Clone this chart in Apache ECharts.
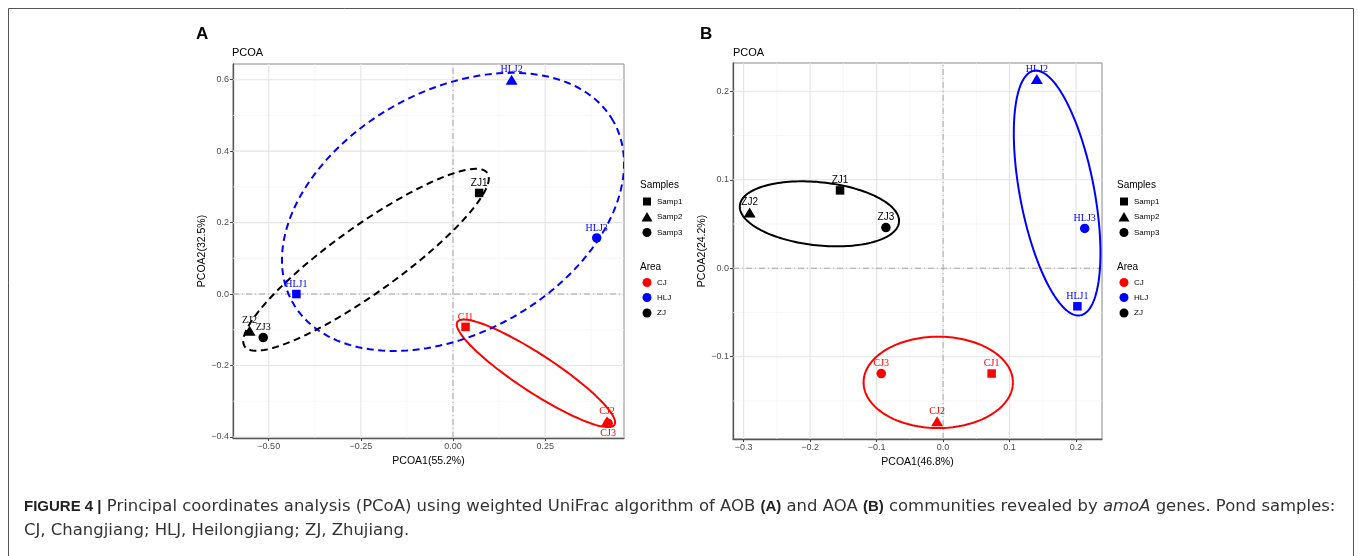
<!DOCTYPE html>
<html>
<head>
<meta charset="utf-8">
<script src="https://cdn.jsdelivr.net/npm/echarts@6/dist/echarts.min.js"></script>
<style>
html, body { margin: 0; padding: 0; background: #fff; }
#main { width: 1358px; height: 556px; }
</style>
</head>
<body>
<div id="main"></div>
<script>
// samples shared by both panels
var sampleNames = ['CJ1', 'CJ2', 'CJ3', 'HLJ1', 'HLJ2', 'HLJ3', 'ZJ1', 'ZJ2', 'ZJ3'];
var sampleArea = ['CJ', 'CJ', 'CJ', 'HLJ', 'HLJ', 'HLJ', 'ZJ', 'ZJ', 'ZJ'];
var sampleType = ['Samp1', 'Samp2', 'Samp3', 'Samp1', 'Samp2', 'Samp3', 'Samp1', 'Samp2', 'Samp3'];

// A: AOB
var aobX = [0.034, 0.418, 0.421, -0.425, 0.159, 0.390, 0.071, -0.552, -0.515];
var aobY = [-0.092, -0.356, -0.362, 0.000, 0.600, 0.157, 0.283, -0.103, -0.122];
// B: AOA
var aoaX = [0.073, -0.009, -0.093, 0.202, 0.141, 0.213, -0.155, -0.291, -0.086];
var aoaY = [-0.119, -0.173, -0.119, -0.043, 0.214, 0.045, 0.088, 0.063, 0.046];

// confidence ellipses: [cx, cy, ux, uy, vx, vy]
var aobEllCJ = [0.225, -0.222, 0.213, -0.144, -0.028, -0.044];
var aobEllHLJ = [0.000, 0.230, 0.435, 0.254, -0.162, 0.295];
var aobEllZJ = [-0.236, 0.096, 0.329, 0.243, -0.0527, 0.0759];
var aoaEllCJ = [-0.0073, -0.129, 0.1123, 0, 0, 0.0516];
var aoaEllHLJ = [0.1715, 0.085, 0.0351, -0.1382, -0.0549, -0.0079];
var aoaEllZJ = [-0.186, 0.0615, 0.1197, -0.0095, -0.0050, -0.0355];

var aobXTicks = [-0.5, -0.25, 0, 0.25];
var aobYTicks = [-0.4, -0.2, 0, 0.2, 0.4, 0.6];
var aoaXTicks = [-0.3, -0.2, -0.1, 0, 0.1, 0.2];
var aoaYTicks = [-0.1, 0, 0.1, 0.2];
var aobXRange = [-0.597, 0.464];
var aobYRange = [-0.403, 0.644];
var aoaXRange = [-0.316, 0.239];
var aoaYRange = [-0.193, 0.232];

var areaNames = ['CJ', 'HLJ', 'ZJ'];
var areaColors = {CJ: '#FF0000', HLJ: '#0000FF', ZJ: '#000000'};
var typeNames = ['Samp1', 'Samp2', 'Samp3'];
var typeSymbols = {Samp1: 'rect', Samp2: 'triangle', Samp3: 'circle'};
var typeSizes = {Samp1: 8.5, Samp2: [12, 10], Samp3: 9.5};

var myChart = echarts.init(document.getElementById('main'));

function fmt(d) {
    return function (v) { return v.toFixed(d).replace('-', '\u2212'); };
}

// minor lines halfway between the major ticks, like ggplot
function minors(ticks, range) {
    var step = ticks[1] - ticks[0], out = [];
    for (var i = -1; i < ticks.length; i++) {
        var v = ticks[0] + step * (i + 0.5);
        if (v > range[0] && v < range[1]) out.push(v);
    }
    return out;
}

function gridLines(xt, yt, xr, yr) {
    var lines = [];
    minors(xt, xr).forEach(function (v) { lines.push([v, yr[0], v, yr[1], 0]); });
    minors(yt, yr).forEach(function (v) { lines.push([xr[0], v, xr[1], v, 0]); });
    xt.forEach(function (v) { lines.push([v, yr[0], v, yr[1], 1]); });
    yt.forEach(function (v) { lines.push([xr[0], v, xr[1], v, 1]); });
    lines.push([0, yr[0], 0, yr[1], 2]);
    lines.push([xr[0], 0, xr[1], 0, 2]);
    return lines;
}

var lineStyles = [
    {stroke: '#F3F3F3', lineWidth: 0.7},
    {stroke: '#E4E4E4', lineWidth: 1.1},
    {stroke: '#A8A8A8', lineWidth: 1, lineDash: [6, 3, 1, 3]}
];

function gridSeries(idx, lines) {
    return {
        type: 'custom', xAxisIndex: idx, yAxisIndex: idx, silent: true, z: 1, clip: true,
        data: lines,
        renderItem: function (params, api) {
            var p1 = api.coord([api.value(0), api.value(1)]);
            var p2 = api.coord([api.value(2), api.value(3)]);
            return {
                type: 'line',
                shape: {x1: p1[0], y1: p1[1], x2: p2[0], y2: p2[1]},
                style: lineStyles[api.value(4)]
            };
        }
    };
}

// dashed: one flag per area (CJ, HLJ, ZJ)
function ellipseSeries(idx, ells, dashed) {
    return {
        type: 'custom', xAxisIndex: idx, yAxisIndex: idx, silent: true, z: 3, clip: true,
        data: ells,
        renderItem: function (params, api) {
            var pts = [];
            for (var k = 0; k <= 160; k++) {
                var t = k / 160 * Math.PI * 2;
                pts.push(api.coord([
                    api.value(0) + api.value(2) * Math.cos(t) + api.value(4) * Math.sin(t),
                    api.value(1) + api.value(3) * Math.cos(t) + api.value(5) * Math.sin(t)
                ]));
            }
            return {
                type: 'polyline',
                shape: {points: pts},
                style: {
                    fill: null,
                    stroke: areaColors[areaNames[params.dataIndex]],
                    lineWidth: 2,
                    lineDash: dashed[params.dataIndex] ? [7, 4.5] : null
                }
            };
        }
    };
}

function pointSeries(idx, xs, ys, panel) {
    var data = sampleNames.map(function (n, i) {
        var area = sampleArea[i], type = sampleType[i];
        var serif = area !== 'ZJ' || (panel === 'A' && n !== 'ZJ1');
        var below = panel === 'A' && n === 'CJ3';
        return {
            name: n,
            value: [xs[i], ys[i]],
            symbol: typeSymbols[type],
            symbolSize: typeSizes[type],
            itemStyle: {color: areaColors[area], opacity: 1},
            label: {
                show: true,
                position: 'inside',
                offset: [0, below ? 10 : -10],
                formatter: n,
                color: areaColors[area],
                fontSize: 10,
                fontFamily: serif ? 'Liberation Serif' : 'Liberation Sans'
            }
        };
    });
    return {
        type: 'scatter', xAxisIndex: idx, yAxisIndex: idx, z: 4, silent: true,
        itemStyle: {opacity: 1},
        data: data
    };
}

function makeAxis(idx, range, ticks, name, dec, gap) {
    return {
        gridIndex: idx, type: 'value', min: range[0], max: range[1],
        name: name, nameLocation: 'middle', nameGap: gap,
        nameTextStyle: {fontSize: 10.5, color: '#000', fontFamily: 'Liberation Sans'},
        axisLine: {show: true, onZero: false, lineStyle: {color: '#555', width: 1.3}},
        axisTick: {show: true, length: 3, customValues: ticks, lineStyle: {color: '#444'}},
        axisLabel: {customValues: ticks, formatter: fmt(dec), fontSize: 9, color: '#4D4D4D',
            margin: 4, fontFamily: 'Liberation Sans'},
        splitLine: {show: false}
    };
}

// legend drawn as graphics
function legendGraphics(x0) {
    var els = [], font = 'Liberation Sans';
    els.push({type: 'text', left: x0, top: 180, style: {text: 'Samples', fontSize: 10, fontFamily: font, fill: '#000'}});
    var sy = [201.5, 217, 232.5];
    typeNames.forEach(function (t, i) {
        var cx = x0 + 7, cy = sy[i];
        if (t === 'Samp1') els.push({type: 'rect', shape: {x: cx - 4, y: cy - 4, width: 8, height: 8}, style: {fill: '#000'}});
        if (t === 'Samp2') els.push({type: 'polygon', shape: {points: [[cx, cy - 5], [cx + 5.5, cy + 4.5], [cx - 5.5, cy + 4.5]]}, style: {fill: '#000'}});
        if (t === 'Samp3') els.push({type: 'circle', shape: {cx: cx, cy: cy, r: 4.5}, style: {fill: '#000'}});
        els.push({type: 'text', x: x0 + 17, y: cy, style: {text: t, fontSize: 8, fontFamily: font, fill: '#000', verticalAlign: 'middle'}});
    });
    els.push({type: 'text', left: x0, top: 262, style: {text: 'Area', fontSize: 10, fontFamily: font, fill: '#000'}});
    var ay = [282.5, 297.5, 313];
    areaNames.forEach(function (a, i) {
        els.push({type: 'circle', shape: {cx: x0 + 7, cy: ay[i], r: 4.5}, style: {fill: areaColors[a]}});
        els.push({type: 'text', x: x0 + 17, y: ay[i], style: {text: a, fontSize: 8, fontFamily: font, fill: '#000', verticalAlign: 'middle'}});
    });
    return els;
}

// caption: size the regular text so the first line spans the frame like the original
var capBold = ['FIGURE 4 |', '(A)', '(B)'];
var capRegular = [' Principal coordinates analysis (PCoA) using weighted UniFrac algorithm of AOB ', ' and AOA ', ' communities revealed by ', ' genes. Pond samples:'];
var capItalic = 'amoA';
var captionLine2 = 'CJ, Changjiang; HLJ, Heilongjiang; ZJ, Zhujiang.';

var ctx = document.createElement('canvas').getContext('2d');
function textW(font, s) { ctx.font = font; return ctx.measureText(s).width; }
var boldW = capBold.reduce(function (a, s) { return a + textW('bold 15px "Liberation Sans"', s); }, 0);
var regW = capRegular.reduce(function (a, s) { return a + textW('100px "DejaVu Sans"', s); }, 0)
    + textW('italic 100px "DejaVu Sans"', capItalic);
var capSize = Math.min(17, Math.max(13, (1312 - boldW) / regW * 100));

var captionLine1 = '{b|' + capBold[0] + '}' + capRegular[0] + '{b|' + capBold[1] + '}' + capRegular[1]
    + '{b|' + capBold[2] + '}' + capRegular[2] + '{i|' + capItalic + '}' + capRegular[3];
var capRich = {
    b: {fontWeight: 'bold', fontSize: 15, fontFamily: 'Liberation Sans', fill: '#222'},
    i: {fontStyle: 'italic', fontSize: capSize, fontFamily: 'DejaVu Sans', fill: '#333'}
};

var graphics = [
    {type: 'rect', shape: {x: 8.5, y: 8.5, width: 1345, height: 600}, style: {fill: null, stroke: '#555', lineWidth: 1}, z: 0},
    {type: 'text', left: 196, top: 26, style: {text: 'A', fontSize: 17, fontWeight: 'bold', fontFamily: 'Liberation Sans', fill: '#000'}},
    {type: 'text', left: 700, top: 26, style: {text: 'B', fontSize: 17, fontWeight: 'bold', fontFamily: 'Liberation Sans', fill: '#000'}},
    {type: 'text', left: 232, top: 47, style: {text: 'PCOA', fontSize: 11, fontFamily: 'Liberation Sans', fill: '#000'}},
    {type: 'text', left: 733, top: 47, style: {text: 'PCOA', fontSize: 11, fontFamily: 'Liberation Sans', fill: '#000'}},
    {type: 'text', left: 24, top: 499, style: {text: captionLine1, rich: capRich, fontSize: capSize, fontFamily: 'DejaVu Sans', fill: '#333'}},
    {type: 'text', left: 24, top: 523, style: {text: captionLine2, fontSize: capSize, fontFamily: 'DejaVu Sans', fill: '#333'}}
].concat(legendGraphics(640), legendGraphics(1117));

var option = {
    animation: false,
    backgroundColor: '#fff',
    grid: [
        {left: 233, top: 64, width: 391, height: 374, show: true, borderColor: '#888', borderWidth: 1, backgroundColor: '#fff'},
        {left: 733, top: 63, width: 369, height: 376, show: true, borderColor: '#888', borderWidth: 1, backgroundColor: '#fff'}
    ],
    xAxis: [
        makeAxis(0, aobXRange, aobXTicks, 'PCOA1(55.2%)', 2, 16),
        makeAxis(1, aoaXRange, aoaXTicks, 'PCOA1(46.8%)', 1, 16)
    ],
    yAxis: [
        makeAxis(0, aobYRange, aobYTicks, 'PCOA2(32.5%)', 1, 24),
        makeAxis(1, aoaYRange, aoaYTicks, 'PCOA2(24.2%)', 1, 24)
    ],
    graphic: graphics,
    series: [
        gridSeries(0, gridLines(aobXTicks, aobYTicks, aobXRange, aobYRange)),
        gridSeries(1, gridLines(aoaXTicks, aoaYTicks, aoaXRange, aoaYRange)),
        ellipseSeries(0, [aobEllCJ, aobEllHLJ, aobEllZJ], [false, true, true]),
        ellipseSeries(1, [aoaEllCJ, aoaEllHLJ, aoaEllZJ], [false, false, false]),
        pointSeries(0, aobX, aobY, 'A'),
        pointSeries(1, aoaX, aoaY, 'B')
    ]
};
myChart.setOption(option);
</script>
</body>
</html>
